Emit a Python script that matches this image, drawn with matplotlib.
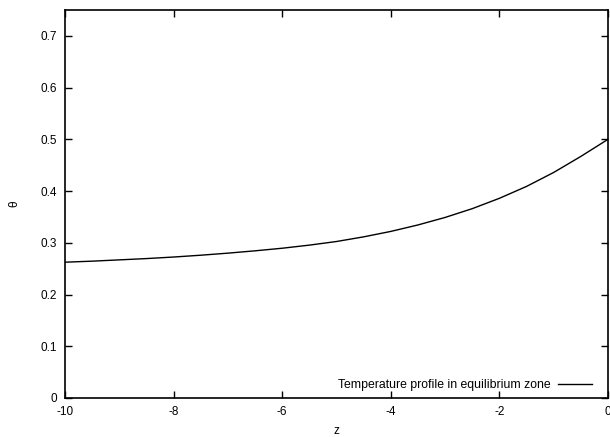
import numpy as np
import matplotlib.pyplot as plt

plt.rcParams['font.family'] = ['Liberation Sans', 'DejaVu Sans']

# temperature profile
z = [-10, -9.5, -9, -8.5, -8, -7.5, -7, -6.5, -6, -5.5, -5,
     -4.5, -4, -3.5, -3, -2.5, -2, -1.5, -1, -0.5, 0]
theta = [0.2625, 0.2645, 0.267, 0.2695, 0.2725, 0.276, 0.280, 0.2845, 0.2895, 0.2955, 0.3025,
         0.3115, 0.322, 0.3345, 0.349, 0.366, 0.386, 0.409, 0.436, 0.467, 0.500]

xticks = [-10, -8, -6, -4, -2, 0]
yticks = [0, 0.1, 0.2, 0.3, 0.4, 0.5, 0.6, 0.7]

fig = plt.figure(figsize=(6.1, 4.37), dpi=100)
ax = fig.add_axes([65/610, 1-398/437, (608-65)/610, (398-10)/437])

ax.plot(z, theta, color='black', lw=1.0, label='Temperature profile in equilibrium zone')

ax.set_xlim(-10, 0)
ax.set_ylim(0, 0.75)
ax.set_xticks(xticks)
ax.set_xticklabels([str(t) for t in xticks])
ax.set_yticks(yticks)
ax.set_yticklabels(['0'] + [f'{t:.1f}' for t in yticks[1:]])
ax.tick_params(direction='in', top=True, right=True, length=5, width=1, labelsize=8.5, pad=6)
for s in ax.spines.values():
    s.set_linewidth(1.2)

ax.set_xlabel('z', fontsize=8.5, labelpad=5)
ax.set_ylabel('θ', fontsize=8.5, labelpad=14)

leg = ax.legend(loc='lower right', bbox_to_anchor=(0.98, 0.005), frameon=False,
                markerfirst=False, fontsize=8.8, handlelength=2.8, handletextpad=0.6,
                borderaxespad=0)

fig.savefig('out.png', dpi=100)
